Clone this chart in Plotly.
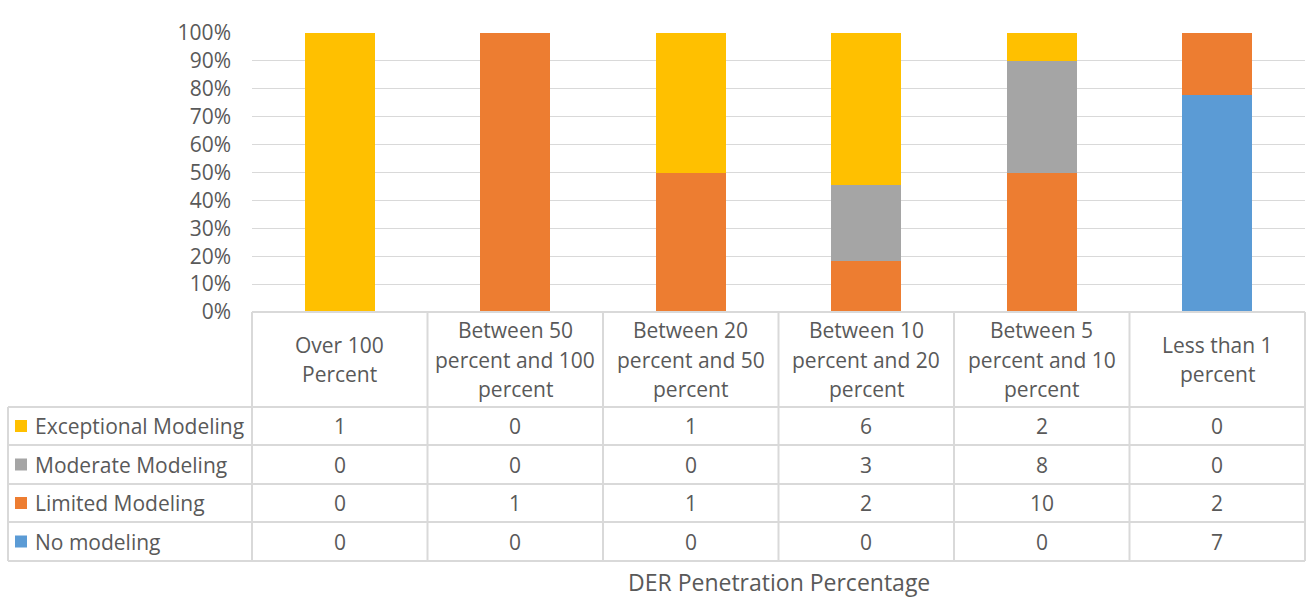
import plotly.graph_objects as go

categories = ["Over 100<br>Percent",
              "Between 50<br>percent and 100<br>percent",
              "Between 20<br>percent and 50<br>percent",
              "Between 10<br>percent and 20<br>percent",
              "Between 5<br>percent and 10<br>percent",
              "Less than 1<br>percent"]
exceptional = [1, 0, 1, 6, 2, 0]
moderate = [0, 0, 0, 3, 8, 0]
limited = [0, 1, 1, 2, 10, 2]
no_modeling = [0, 0, 0, 0, 0, 7]
series_names = ["Exceptional Modeling", "Moderate Modeling", "Limited Modeling", "No modeling"]
y_ticks = list(range(0, 101, 10))
x_title = "DER Penetration Percentage"

colors = {"Exceptional Modeling": "#FFC000", "Moderate Modeling": "#A5A5A5",
          "Limited Modeling": "#ED7D31", "No modeling": "#5B9BD5"}
series = {"Exceptional Modeling": exceptional, "Moderate Modeling": moderate,
          "Limited Modeling": limited, "No modeling": no_modeling}

W, H = 1313, 599
FONT = "Open Sans"
TXT = "#595959"
GRID = "#D9D9D9"
TS = 21   # table text size
KS = 21   # tick size
PX_L, PX_R, PY_T, PY_B = 252, 1305, 33, 312
TABLE_L = 8
ROW_Y = [407, 445, 484, 522, 561]


def px(x):
    return x / W


def py(y):
    return 1 - y / H


fig = go.Figure()
xs = list(range(len(categories)))
for name in reversed(series_names):
    fig.add_trace(go.Bar(x=xs, y=series[name], name=name, marker_color=colors[name],
                         marker_line_width=0, width=0.4, showlegend=False))

fig.update_layout(
    width=W, height=H, margin=dict(l=0, r=0, t=0, b=0, pad=0, autoexpand=False),
    barmode="stack", barnorm="percent", showlegend=False,
    plot_bgcolor="white", paper_bgcolor="white",
    font=dict(family=FONT, color=TXT, size=TS),
    xaxis=dict(domain=[px(PX_L), px(PX_R)], range=[-0.5, len(categories) - 0.5],
               showticklabels=False, showgrid=False, zeroline=False, showline=False,
               automargin=False),
    yaxis=dict(domain=[py(PY_B), py(PY_T)], range=[0, 100], tickvals=y_ticks,
               ticktext=[f"{v}%" for v in y_ticks], showgrid=True, gridcolor=GRID,
               gridwidth=1, zeroline=False, showline=False, ticks="", automargin=False,
               ticklabelstandoff=20, tickfont=dict(size=KS, color=TXT, family=FONT)),
)

shapes = []
n = len(categories)
col_x = [PX_L + (PX_R - PX_L) * i / n for i in range(n + 1)]
line = dict(color=GRID, width=2)
for i, x in enumerate(col_x):
    shapes.append(dict(type="line", xref="paper", yref="paper", x0=px(x), x1=px(x),
                       y0=py(PY_B), y1=py(ROW_Y[-1]), line=line))
shapes.append(dict(type="line", xref="paper", yref="paper", x0=px(TABLE_L), x1=px(TABLE_L),
                   y0=py(ROW_Y[0]), y1=py(ROW_Y[-1]), line=line))
shapes.append(dict(type="line", xref="paper", yref="paper", x0=px(PX_L), x1=px(PX_R),
                   y0=py(PY_B), y1=py(PY_B), line=line))
for y in ROW_Y:
    shapes.append(dict(type="line", xref="paper", yref="paper", x0=px(TABLE_L), x1=px(PX_R),
                       y0=py(y), y1=py(y), line=line))

annotations = []
for i, cat in enumerate(categories):
    lines = cat.split("<br>")
    cx = (col_x[i] + col_x[i + 1]) / 2
    cy = (PY_B + ROW_Y[0]) / 2
    lh = 29.5
    for j, t in enumerate(lines):
        yy = cy + (j - (len(lines) - 1) / 2) * lh
        annotations.append(dict(x=px(cx), y=py(yy), xref="paper", yref="paper", text=t,
                                showarrow=False, xanchor="center", yanchor="middle",
                                font=dict(size=TS, color=TXT, family=FONT)))
for r, name in enumerate(series_names):
    cy = (ROW_Y[r] + ROW_Y[r + 1]) / 2
    shapes.append(dict(type="rect", xref="paper", yref="paper", x0=px(15), x1=px(27),
                       y0=py(cy - 6), y1=py(cy + 6), fillcolor=colors[name], line=dict(width=0)))
    annotations.append(dict(x=px(33), y=py(cy), xref="paper", yref="paper", text=name,
                            showarrow=False, xanchor="left", yanchor="middle",
                            font=dict(size=TS, color=TXT, family=FONT)))
    for i, v in enumerate(series[name]):
        cx = (col_x[i] + col_x[i + 1]) / 2
        annotations.append(dict(x=px(cx), y=py(cy), xref="paper", yref="paper", text=str(v),
                                showarrow=False, xanchor="center", yanchor="middle",
                                font=dict(size=TS, color=TXT, family=FONT)))
annotations.append(dict(x=px((PX_L + PX_R) / 2), y=py(582), xref="paper", yref="paper",
                        text=x_title, showarrow=False, xanchor="center", yanchor="middle",
                        font=dict(size=23, color=TXT, family=FONT)))

fig.update_layout(shapes=shapes, annotations=annotations)
fig.write_html("out.html")
